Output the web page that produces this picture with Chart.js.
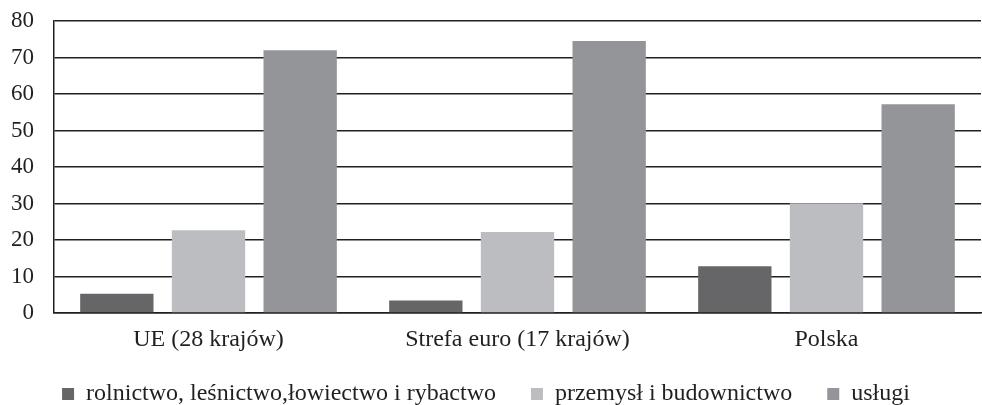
<!DOCTYPE html>
<html lang="pl">
<head>
    <meta charset="UTF-8">
    <title>Struktura zatrudnienia</title>
    <script src="https://cdn.jsdelivr.net/npm/chart.js"></script>
    <style>
        body { margin: 0; background: #fff; }
        .chart-container { width: 982px; height: 405px; }
    </style>
</head>
<body>
    <div class="chart-container">
        <canvas id="chart"></canvas>
    </div>
    <script>
        const categories = ['UE (28 krajów)', 'Strefa euro (17 krajów)', 'Polska'];
        const seriesNames = ['rolnictwo, leśnictwo,łowiectwo i rybactwo', 'przemysł i budownictwo', 'usługi'];
        const rolnictwo = [5.3, 3.4, 12.8];
        const przemysl = [22.7, 22.2, 30.1];
        const uslugi = [72.0, 74.5, 57.2];
        const colors = ['#666668', '#bcbdc0', '#949598'];

        const fontFamily = '"Liberation Serif", "Times New Roman", serif';
        const ink = '#231f20';
        Chart.defaults.font.family = fontFamily;
        Chart.defaults.color = ink;

        new Chart(document.getElementById('chart').getContext('2d'), {
            type: 'bar',
            data: {
                labels: categories,
                datasets: [rolnictwo, przemysl, uslugi].map((data, i) => ({
                    label: seriesNames[i],
                    data: data,
                    backgroundColor: colors[i],
                    borderWidth: 0,
                    barPercentage: 0.8,
                    categoryPercentage: 0.89
                }))
            },
            options: {
                responsive: true,
                maintainAspectRatio: false,
                animation: false,
                layout: { padding: { top: 0, right: 1, left: -9, bottom: -11 } },
                plugins: {
                    tooltip: { enabled: false },
                    legend: {
                        position: 'bottom',
                        labels: {
                            boxWidth: 12,
                            boxHeight: 12,
                            padding: 23,
                            color: ink,
                            font: { family: fontFamily, size: 24 },
                            // wider gaps between items without a taller legend
                            generateLabels(chart) {
                                const items = Chart.defaults.plugins.legend.labels.generateLabels(chart);
                                items.forEach((item, i) => {
                                    if (i < items.length - 1) item.text += '  ';
                                });
                                return items;
                            }
                        }
                    }
                },
                scales: {
                    x: {
                        grid: { display: false },
                        border: { color: ink, width: 1.5 },
                        ticks: { color: ink, padding: 7, font: { family: fontFamily, size: 24, lineHeight: 1 } }
                    },
                    y: {
                        min: 0,
                        max: 80,
                        // tiny lineHeight so the tick padding does not push the plot down
                        ticks: { stepSize: 10, color: ink, padding: 20, font: { family: fontFamily, size: 23, lineHeight: 0.09 } },
                        grid: { color: ink, lineWidth: 1.5, drawTicks: false },
                        border: { color: ink, width: 1.5 }
                    }
                }
            }
        });
    </script>
</body>
</html>
